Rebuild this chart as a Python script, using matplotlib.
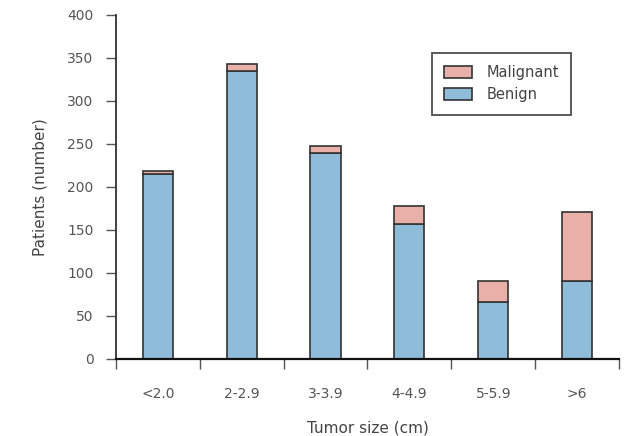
import numpy as np
import matplotlib
matplotlib.use('Agg')
import matplotlib.pyplot as plt

# Data
categories = ['<2.0', '2-2.9', '3-3.9', '4-4.9', '5-5.9', '>6']
benign = [215, 335, 239, 157, 66, 90]
malignant = [3, 8, 8, 21, 24, 81]

benign_color = '#8fbcd9'
malignant_color = '#e8b0a8'
edge = '#333333'

fig = plt.figure(figsize=(6.33, 4.36), dpi=100)
ax = fig.add_axes([0.183, 0.177, 0.795, 0.789])

x = np.arange(len(categories))
ax.bar(x, benign, width=0.36, color=benign_color, edgecolor=edge, linewidth=1.2, label='Benign')
ax.bar(x, malignant, width=0.36, bottom=benign, color=malignant_color, edgecolor=edge,
       linewidth=1.2, label='Malignant')

ax.set_xlim(-0.5, 5.5)
ax.set_ylim(0, 400)
ax.set_yticks(np.arange(0, 401, 50))
ax.set_xticks(x)
ax.set_xticklabels(categories)
ax.set_xticks(np.arange(-0.5, 5.6, 1), minor=True)
ax.tick_params(axis='x', which='major', length=0, pad=20, labelsize=10, labelcolor='#555555')
ax.tick_params(axis='x', which='minor', length=7, width=1, color='#555555')
ax.tick_params(axis='y', length=7, width=1, pad=9, color='#555555', labelsize=10,
               labelcolor='#555555')

for s in ['top', 'right']:
    ax.spines[s].set_visible(False)
ax.spines['left'].set_color('#333333')
ax.spines['left'].set_linewidth(1.3)
ax.spines['bottom'].set_color('#111111')
ax.spines['bottom'].set_linewidth(1.6)

ax.set_xlabel('Tumor size (cm)', fontsize=11, color='#444444', labelpad=14)
ax.set_ylabel('Patients (number)', fontsize=11, color='#444444', labelpad=14)

handles, labels = ax.get_legend_handles_labels()
leg = ax.legend(handles[::-1], labels[::-1], loc='upper left', bbox_to_anchor=(0.628, 0.89),
                fontsize=10.5, frameon=True, fancybox=False, edgecolor='#222222',
                borderpad=0.85, handlelength=1.9, handleheight=0.9, handletextpad=1.0,
                labelspacing=0.5, borderaxespad=0)
leg.get_frame().set_linewidth(1.3)
for t in leg.get_texts():
    t.set_color('#444444')

fig.savefig('out.png', dpi=100)
